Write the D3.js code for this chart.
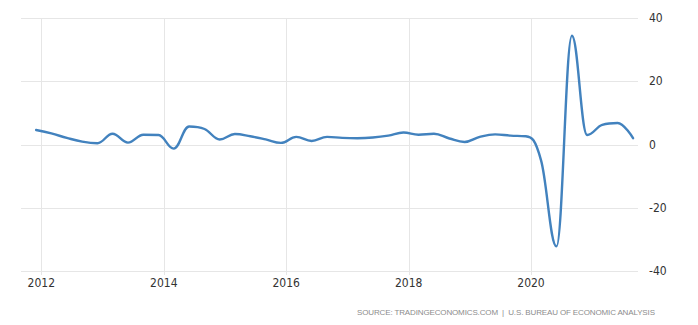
<!DOCTYPE html>
<html>
<head>
<meta charset="utf-8">
<script src="https://cdn.jsdelivr.net/npm/d3@7"></script>
<style>
  html, body { margin: 0; padding: 0; background: #fff; }
  svg { display: block; }
  .lbl { font-family: "Liberation Sans Narrow", "DejaVu Sans Condensed", "Arial Narrow", "Liberation Sans", sans-serif; font-size: 12px; fill: #333; }
  .src { font-family: "Liberation Sans", "DejaVu Sans", sans-serif; font-size: 8px; fill: #8c8c8c; }
</style>
</head>
<body>
<svg id="chart" width="698" height="325"></svg>
<script>
// Quarterly categories (year, quarter)
const quarters = [
  "2011Q4",
  "2012Q1","2012Q2","2012Q3","2012Q4",
  "2013Q1","2013Q2","2013Q3","2013Q4",
  "2014Q1","2014Q2","2014Q3","2014Q4",
  "2015Q1","2015Q2","2015Q3","2015Q4",
  "2016Q1","2016Q2","2016Q3","2016Q4",
  "2017Q1","2017Q2","2017Q3","2017Q4",
  "2018Q1","2018Q2","2018Q3","2018Q4",
  "2019Q1","2019Q2","2019Q3","2019Q4",
  "2020Q1","2020Q2","2020Q3","2020Q4",
  "2021Q1","2021Q2","2021Q3"
];
// GDP growth rate (annualized, %)
const growth = [
  4.6,
  3.5, 2.1, 0.9, 0.4,
  3.4, 0.6, 3.1, 3.0,
  -1.3, 5.7, 4.9, 1.6,
  3.3, 2.6, 1.6, 0.5,
  2.4, 1.1, 2.4, 2.1,
  2.0, 2.2, 2.8, 3.8,
  3.1, 3.4, 1.9, 0.8,
  2.4, 3.2, 2.8, 2.6,
  -5.0, -32.2, 34.4, 3.0,
  6.2, 6.8, 2.0
];
const yTicks = [40, 20, 0, -20, -40];
const xTickYears = [2012, 2014, 2016, 2018, 2020];
const sourceText = "SOURCE: TRADINGECONOMICS.COM  |  U.S. BUREAU OF ECONOMIC ANALYSIS";

const svg = d3.select("#chart");
const plotLeft = 21, plotRight = 638, plotTop = 18, plotBottom = 271;

const parseQ = q => {
  const yr = +q.slice(0, 4), qn = +q.slice(5);
  return new Date(yr, qn * 3 - 1, 1);
};
const data = quarters.map((q, i) => ({ date: parseQ(q), value: growth[i] }));

const x = d3.scaleTime()
  .domain([new Date(2012, 0, 1), new Date(2020, 0, 1)])
  .range([41.3, 531]);
const y = d3.scaleLinear().domain([-40, 40]).range([plotBottom, plotTop]);

// horizontal gridlines
svg.append("g").selectAll("line").data(yTicks).join("line")
  .attr("x1", plotLeft).attr("x2", plotRight)
  .attr("y1", d => Math.round(y(d)) + 0.5).attr("y2", d => Math.round(y(d)) + 0.5)
  .attr("stroke", "#e6e6e6").attr("stroke-width", 1);

// vertical gridlines
svg.append("g").selectAll("line").data(xTickYears).join("line")
  .attr("x1", d => Math.round(x(new Date(d, 0, 1))) + 0.5)
  .attr("x2", d => Math.round(x(new Date(d, 0, 1))) + 0.5)
  .attr("y1", plotTop).attr("y2", plotBottom + 4)
  .attr("stroke", "#e6e6e6").attr("stroke-width", 1);

// y labels (right side)
svg.append("g").selectAll("text").data(yTicks).join("text")
  .attr("class", "lbl")
  .attr("x", 649)
  .attr("y", d => y(d) + 4)
  .text(d => d);

// x labels
svg.append("g").selectAll("text").data(xTickYears).join("text")
  .attr("class", "lbl")
  .attr("text-anchor", "middle")
  .attr("x", d => x(new Date(d, 0, 1)))
  .attr("y", 287)
  .text(d => d);

// Highcharts-style spline
function splinePath(pts) {
  const p = d3.path();
  const smoothing = 1.5, denom = smoothing + 1;
  let prevRight = null;
  pts.forEach((pt, i) => {
    const [px, py] = pt;
    if (i === 0) { p.moveTo(px, py); prevRight = [px, py]; return; }
    let lcx = px, lcy = py, rcx = px, rcy = py;
    if (i < pts.length - 1) {
      const [lx, ly] = pts[i - 1], [nx, ny] = pts[i + 1];
      lcx = (smoothing * px + lx) / denom; lcy = (smoothing * py + ly) / denom;
      rcx = (smoothing * px + nx) / denom; rcy = (smoothing * py + ny) / denom;
      let corr = 0;
      if (rcx !== lcx) corr = ((rcy - lcy) * (rcx - px)) / (rcx - lcx) + py - rcy;
      lcy += corr; rcy += corr;
      if (lcy > ly && lcy > py) { lcy = Math.max(ly, py); rcy = 2 * py - lcy; }
      else if (lcy < ly && lcy < py) { lcy = Math.min(ly, py); rcy = 2 * py - lcy; }
      if (rcy > ny && rcy > py) { rcy = Math.max(ny, py); lcy = 2 * py - rcy; }
      else if (rcy < ny && rcy < py) { rcy = Math.min(ny, py); lcy = 2 * py - rcy; }
    }
    p.bezierCurveTo(prevRight[0], prevRight[1], lcx, lcy, px, py);
    prevRight = [rcx, rcy];
  });
  return p.toString();
}

const pts = data.map(d => [x(d.date), y(d.value)]);
svg.append("path")
  .attr("d", splinePath(pts))
  .attr("fill", "none")
  .attr("stroke", "#4282be")
  .attr("stroke-width", 2.4)
  .attr("stroke-linejoin", "round")
  .attr("stroke-linecap", "round");

// source
svg.append("text")
  .attr("class", "src")
  .attr("x", 357)
  .attr("y", 315)
  .attr("textLength", 298)
  .attr("lengthAdjust", "spacing")
  .attr("xml:space", "preserve")
  .style("white-space", "pre")
  .text(sourceText);
</script>
</body>
</html>
